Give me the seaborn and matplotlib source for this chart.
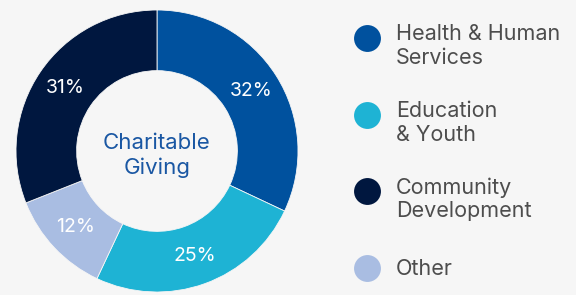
import matplotlib
matplotlib.use("Agg")
import matplotlib.pyplot as plt
import seaborn as sns

# data
categories = ["Health & Human\nServices", "Education\n& Youth", "Community\nDevelopment", "Other"]
shares = [32, 25, 12, 31]
slice_order = ["Health & Human\nServices", "Education\n& Youth", "Other", "Community\nDevelopment"]
colors = {
    "Health & Human\nServices": "#00519e",
    "Education\n& Youth": "#1eb3d4",
    "Community\nDevelopment": "#00173f",
    "Other": "#a9bde2",
}
center_title = "Charitable\nGiving"

bg = "#f6f6f6"
sns.set_theme(style="white", rc={"axes.facecolor": bg, "figure.facecolor": bg})
plt.rcParams["font.family"] = ["Inter", "DejaVu Sans"]

W, H = 576, 295
fig = plt.figure(figsize=(W / 100, H / 100), dpi=100)

# donut: centre (157, 151) px, outer radius 141 px
cx, cy, R = 157, 151, 141
ax = fig.add_axes([(cx - R) / W, (H - cy - R) / H, 2 * R / W, 2 * R / H])
ax.set_facecolor(bg)
wedges, texts, autotexts = ax.pie(
    shares,
    colors=[colors[c] for c in slice_order],
    startangle=90,
    counterclock=False,
    radius=1,
    autopct=lambda p: f"{p:.0f}%",
    pctdistance=0.79,
    wedgeprops=dict(width=0.43, edgecolor=bg, linewidth=0.6),
    textprops=dict(color="white", fontsize=14),
)
ax.set_xlim(-1, 1)
ax.set_ylim(-1, 1)
ax.set_aspect("equal")
ax.axis("off")
ax.text(0, -0.03, center_title, ha="center", va="center", color="#1a57a3",
        fontsize=16, linespacing=1.25)

# legend drawn in pixel coordinates
lax = fig.add_axes([0, 0, 1, 1])
lax.set_xlim(0, W)
lax.set_ylim(H, 0)
lax.axis("off")
legend_y = [38, 115, 191, 268]
for name, y in zip(categories, legend_y):
    lax.scatter([367], [y], s=375, color=colors[name], linewidths=0)
    two = "\n" in name
    lax.text(396, y - 14 if two else y + 1, name, ha="left", va="top" if two else "center",
             color="#4d4d4d", fontsize=15.5, linespacing=1.22)

fig.savefig("out.png", dpi=100, facecolor=bg)
